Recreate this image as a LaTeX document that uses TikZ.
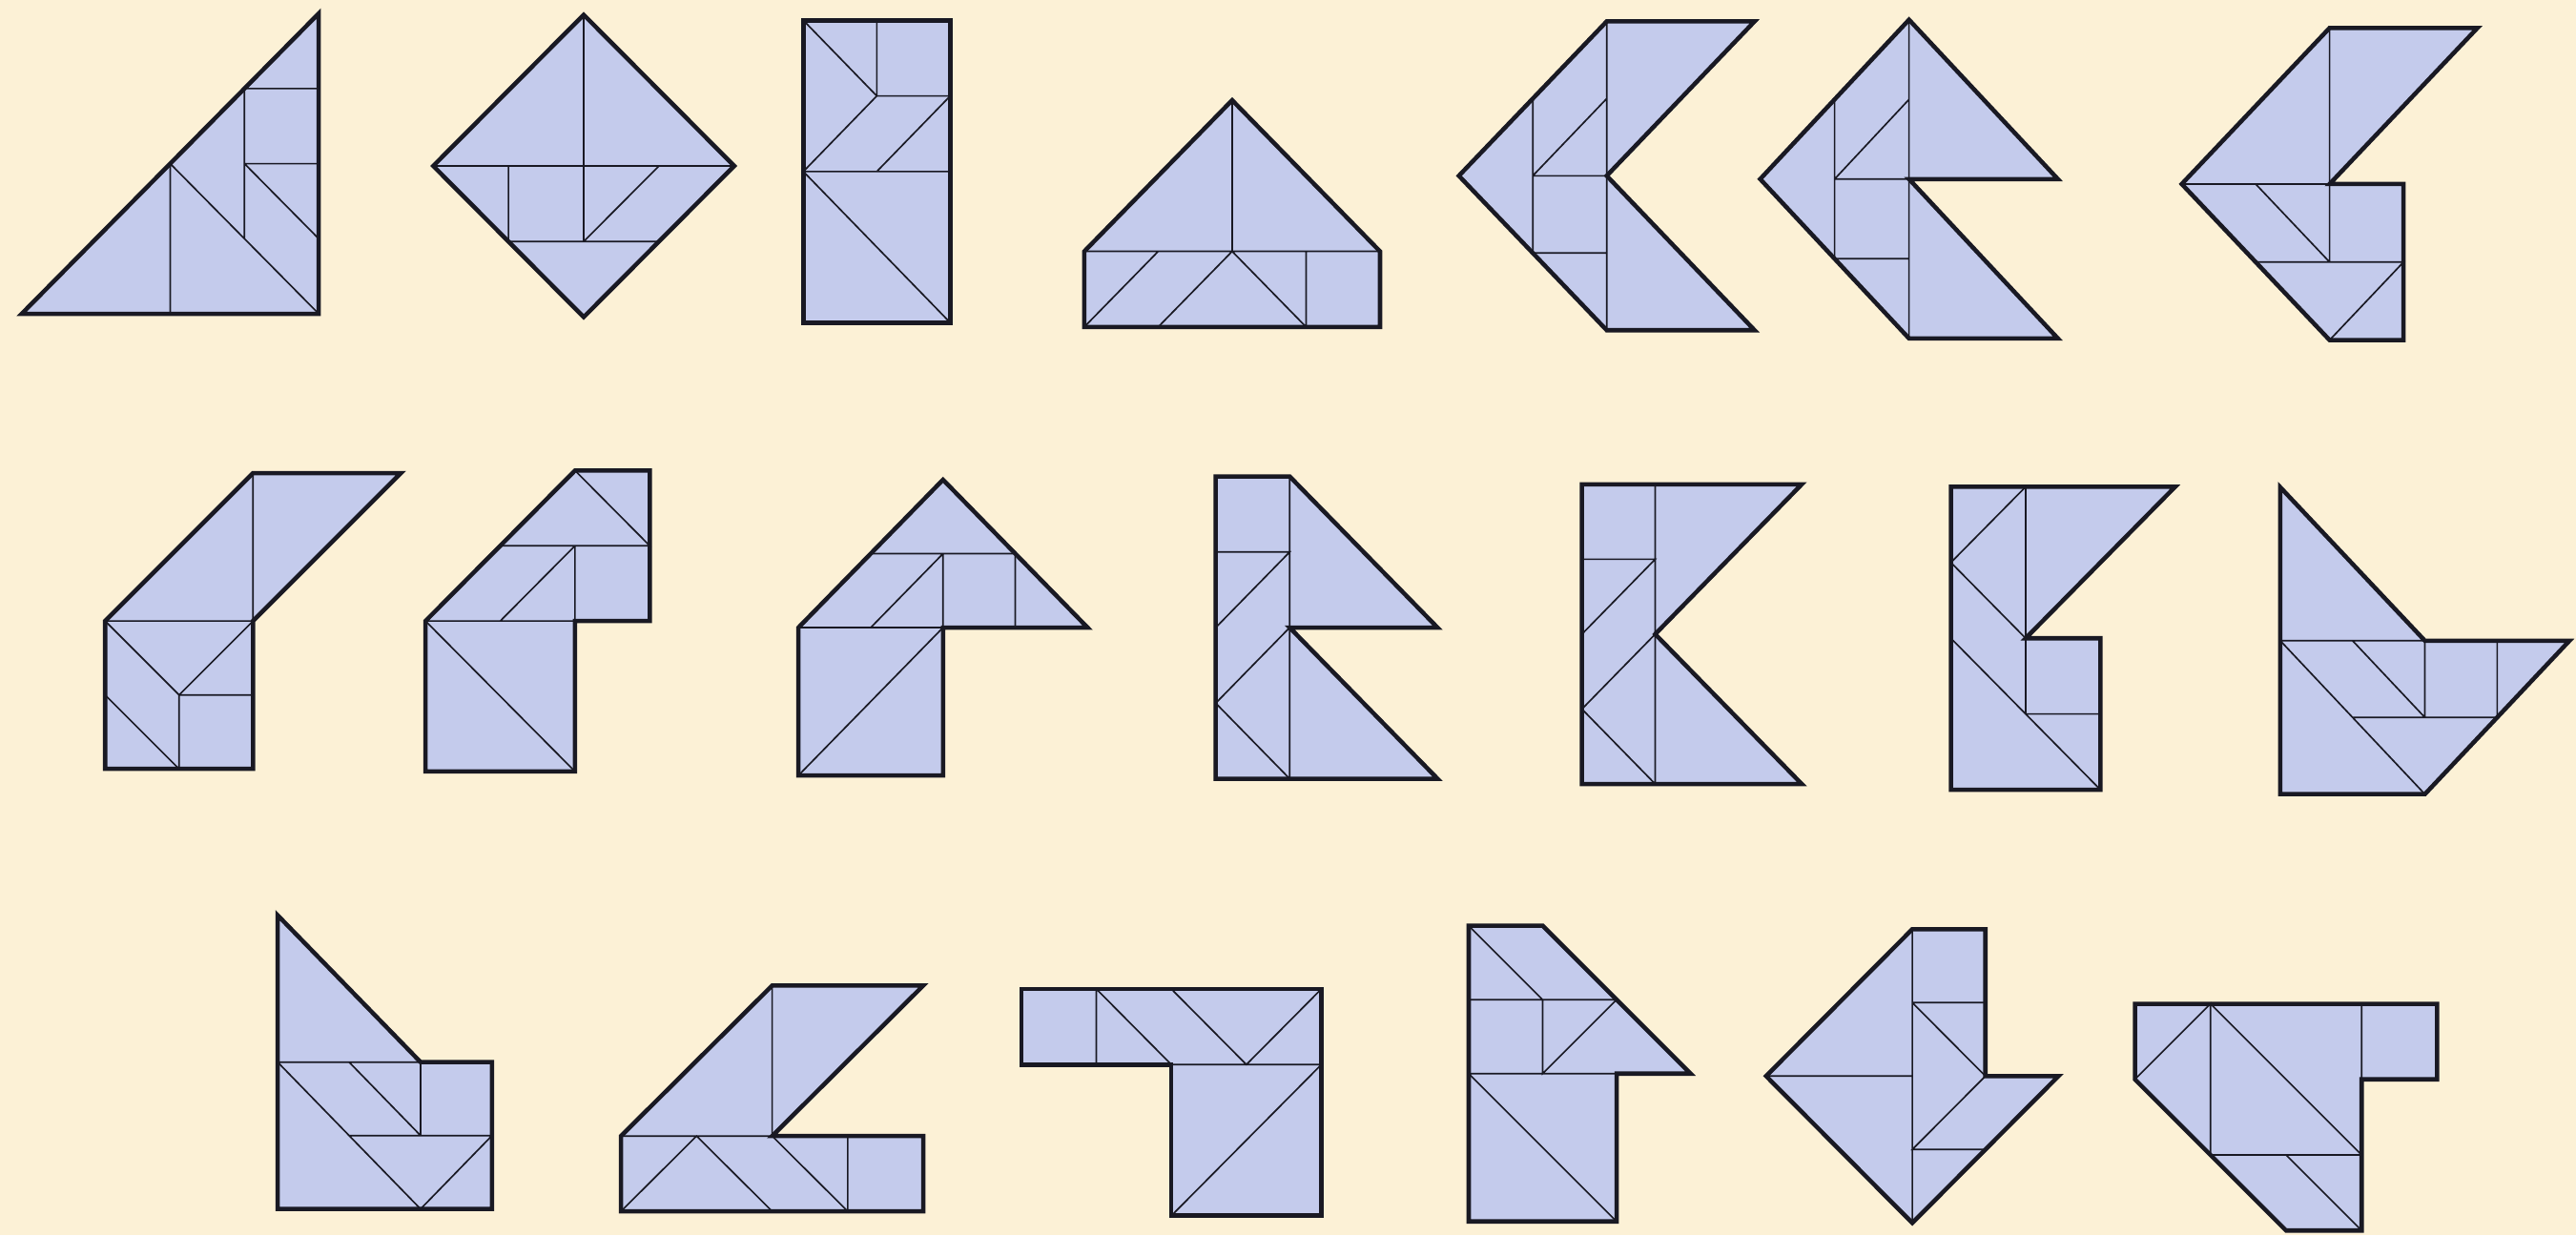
\documentclass[tikz,border=0pt]{standalone}
\usepackage{tikz}
\usepackage{xcolor}
\definecolor{bgcream}{RGB}{252,241,214}
\definecolor{tanfill}{RGB}{196,203,236}
\definecolor{tanline}{RGB}{25,25,35}
\begin{document}
\begin{tikzpicture}[x=0.02cm,y=-0.02cm,
piece/.style={fill=tanfill,draw=tanline,line width=1.5pt,line join=miter},
cut/.style={draw=tanline,line width=0.55pt},
tgram/.style n args={4}{shift={(#1,#2)},x={(#3,0)},y={(0,-#4)}}]
\fill[bgcream] (0,0) rectangle (1568,752);
\useasboundingbox (0,0) rectangle (1568,752);
\begin{scope}[tgram={194}{191}{45.2}{45.7}]
\draw[piece] (-4,0) -- (0,4) -- (0,0) -- cycle;
\draw[cut] (-1,3) -- (0,3) (-1,2) -- (0,2) (-1,3) -- (-1,1) (-1,2) -- (0,1) (-2,2) -- (-2,0) (-2,2) -- (0,0);
\end{scope}
\begin{scope}[tgram={355.3}{101}{45.8}{46}]
\draw[piece] (-2,0) -- (0,2) -- (2,0) -- (0,-2) -- cycle;
\draw[cut] (-2,0) -- (2,0) (0,2) -- (0,-1) (-1,-1) -- (1,-1) (-1,0) -- (-1,-1) (1,0) -- (0,-1);
\end{scope}
\begin{scope}[tgram={489}{196.4}{44.7}{46}]
\draw[piece] (0,0) rectangle (2,4);
\draw[cut] (1,4) -- (1,3) -- (2,3) (0,4) -- (1,3) -- (0,2) (2,3) -- (1,2) (0,2) -- (2,2) (0,2) -- (2,0);
\end{scope}
\begin{scope}[tgram={750}{153}{45}{46}]
\draw[piece] (-2,-1) -- (-2,0) -- (0,2) -- (2,0) -- (2,-1) -- cycle;
\draw[cut] (0,2) -- (0,0) (-2,0) -- (2,0) (-1,0) -- (-2,-1) (-1,-1) -- (0,0) -- (1,-1) (1,0) -- (1,-1);
\end{scope}
\begin{scope}[tgram={978}{107}{45}{47}]
\draw[piece] (0,2) -- (2,2) -- (0,0) -- (2,-2) -- (0,-2) -- (-2,0) -- cycle;
\draw[cut] (0,2) -- (0,-2) (-1,1) -- (-1,-1) (-1,0) -- (0,0) (-1,0) -- (0,1) (-1,-1) -- (0,-1);
\end{scope}
\begin{scope}[tgram={1162}{109}{45.3}{48.5}]
\draw[piece] (0,2) -- (2,0) -- (0,0) -- (2,-2) -- (0,-2) -- (-2,0) -- cycle;
\draw[cut] (0,2) -- (0,-2) (-1,1) -- (-1,-1) (-1,0) -- (0,0) (-1,0) -- (0,1) (-1,-1) -- (0,-1);
\end{scope}
\begin{scope}[tgram={1418}{112}{45}{47.5}]
\draw[piece] (0,2) -- (2,2) -- (0,0) -- (1,0) -- (1,-2) -- (0,-2) -- (-2,0) -- cycle;
\draw[cut] (0,2) -- (0,-1) (-2,0) -- (0,0) (-1,0) -- (0,-1) (-1,-1) -- (1,-1) -- (0,-2);
\end{scope}
\begin{scope}[tgram={154}{378}{45}{45}]
\draw[piece] (-2,0) -- (0,2) -- (2,2) -- (0,0) -- (0,-2) -- (-2,-2) -- cycle;
\draw[cut] (0,2) -- (0,0) -- (-2,0) -- (-1,-1) -- (0,0) (-1,-1) -- (-1,-2) (-1,-1) -- (0,-1) (-2,-1) -- (-1,-2);
\end{scope}
\begin{scope}[tgram={350}{378}{45.5}{45.8}]
\draw[piece] (-2,0) -- (0,2) -- (1,2) -- (1,0) -- (0,0) -- (0,-2) -- (-2,-2) -- cycle;
\draw[cut] (0,2) -- (1,1) -- (-1,1) (0,1) -- (0,0) (0,1) -- (-1,0) (-2,0) -- (0,0) (-2,0) -- (0,-2);
\end{scope}
\begin{scope}[tgram={574}{382}{44}{45}]
\draw[piece] (-2,-2) -- (-2,0) -- (0,2) -- (2,0) -- (0,0) -- (0,-2) -- cycle;
\draw[cut] (-1,1) -- (1,1) (0,1) -- (0,0) (1,1) -- (1,0) (0,1) -- (-1,0) (-2,0) -- (0,0) -- (-2,-2);
\end{scope}
\begin{scope}[tgram={785}{382}{45}{46}]
\draw[piece] (-1,2) -- (0,2) -- (2,0) -- (0,0) -- (2,-2) -- (-1,-2) -- cycle;
\draw[cut] (0,2) -- (0,-2) (-1,1) -- (0,1) -- (-1,0) (0,0) -- (-1,-1) -- (0,-2);
\end{scope}
\begin{scope}[tgram={1007.5}{386}{44.6}{45.6}]
\draw[piece] (-1,2) -- (2,2) -- (0,0) -- (2,-2) -- (-1,-2) -- cycle;
\draw[cut] (0,2) -- (0,-2) (-1,1) -- (0,1) -- (-1,0) (0,0) -- (-1,-1) -- (0,-2);
\end{scope}
\begin{scope}[tgram={1233}{388.5}{45.5}{46.1}]
\draw[piece] (-1,2) -- (2,2) -- (0,0) -- (1,0) -- (1,-2) -- (-1,-2) -- cycle;
\draw[cut] (0,2) -- (0,-1) (0,2) -- (-1,1) -- (0,0) (-1,0) -- (1,-2) (0,-1) -- (1,-1);
\end{scope}
\begin{scope}[tgram={1388}{390}{44}{46.7}]
\draw[piece] (0,2) -- (2,0) -- (4,0) -- (2,-2) -- (0,-2) -- cycle;
\draw[cut] (0,0) -- (2,0) (0,0) -- (2,-2) (1,-1) -- (3,-1) (1,0) -- (2,-1) (2,0) -- (2,-1) (3,0) -- (3,-1);
\end{scope}
\begin{scope}[tgram={169}{646.5}{43.5}{44.7}]
\draw[piece] (0,2) -- (2,0) -- (3,0) -- (3,-2) -- (0,-2) -- cycle;
\draw[cut] (0,0) -- (2,0) (0,0) -- (2,-2) -- (3,-1) -- (1,-1) (1,0) -- (2,-1) (2,0) -- (2,-1);
\end{scope}
\begin{scope}[tgram={470}{691.5}{46}{45.8}]
\draw[piece] (-2,0) -- (0,2) -- (2,2) -- (0,0) -- (2,0) -- (2,-1) -- (-2,-1) -- cycle;
\draw[cut] (0,2) -- (0,0) -- (-2,0) (-2,-1) -- (-1,0) -- (0,-1) (0,0) -- (1,-1) -- (1,0);
\end{scope}
\begin{scope}[tgram={713}{648}{45.65}{46}]
\draw[piece] (-2,1) -- (2,1) -- (2,-2) -- (0,-2) -- (0,0) -- (-2,0) -- cycle;
\draw[cut] (-1,1) -- (-1,0) (-1,1) -- (0,0) (0,1) -- (1,0) -- (2,1) (0,0) -- (2,0) -- (0,-2);
\end{scope}
\begin{scope}[tgram={894}{653.5}{45}{45}]
\draw[piece] (0,2) -- (1,2) -- (3,0) -- (2,0) -- (2,-2) -- (0,-2) -- cycle;
\draw[cut] (0,2) -- (1,1) (0,1) -- (2,1) (1,1) -- (1,0) -- (2,1) (0,0) -- (2,0) (0,0) -- (2,-2);
\end{scope}
\begin{scope}[tgram={1164}{655}{44.5}{44.7}]
\draw[piece] (0,2) -- (1,2) -- (1,0) -- (2,0) -- (0,-2) -- (-2,0) -- cycle;
\draw[cut] (0,2) -- (0,-2) (-2,0) -- (0,0) (0,1) -- (1,1) (0,1) -- (1,0) -- (0,-1) -- (1,-1);
\end{scope}
\begin{scope}[tgram={1299.5}{657}{46}{46}]
\draw[piece] (0,1) -- (4,1) -- (4,0) -- (3,0) -- (3,-2) -- (2,-2) -- (0,0) -- cycle;
\draw[cut] (0,0) -- (1,1) -- (1,-1) -- (3,-1) (1,1) -- (3,-1) (3,1) -- (3,0) (2,-1) -- (3,-2);
\end{scope}
\end{tikzpicture}
\end{document}
